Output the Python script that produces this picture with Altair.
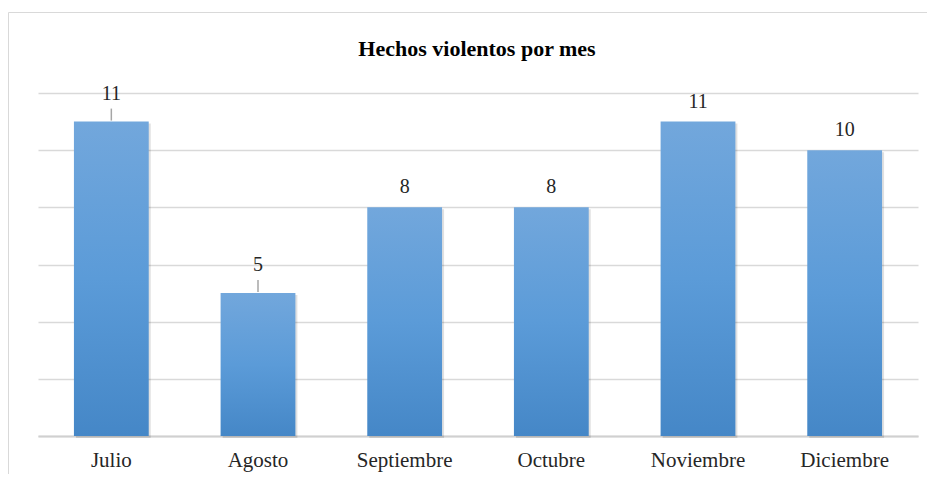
import altair as alt
import pandas as pd

months = ["Julio", "Agosto", "Septiembre", "Octubre", "Noviembre", "Diciembre"]
counts = [11, 5, 8, 8, 11, 10]
leader_months = ["Julio", "Agosto"]
grid_values = [0, 2, 4, 6, 8, 10, 12]
title_text = "Hechos violentos por mes"

df = pd.DataFrame({"mes": months, "hechos": counts})
df["leader"] = df["mes"].isin(leader_months)

FONT = "Liberation Serif"

x = alt.X(
    "mes:N",
    sort=months,
    title=None,
    scale=alt.Scale(paddingInner=0.49, paddingOuter=0.245),
    axis=alt.Axis(
        labelAngle=0,
        labelFont=FONT,
        labelFontSize=21,
        labelColor="#262626",
        ticks=False,
        domainColor="#D0D0D0",
        domainWidth=2,
        labelPadding=13,
    ),
)
y = alt.Y(
    "hechos:Q",
    title=None,
    scale=alt.Scale(domain=[0, 12], nice=False),
    axis=alt.Axis(
        values=grid_values,
        labels=False,
        ticks=False,
        domain=False,
        grid=True,
        gridColor="#D9D9D9",
        gridWidth=1.5,
    ),
)

gradient = alt.Gradient(
    gradient="linear",
    stops=[
        alt.GradientStop(color="#72A7DC", offset=0),
        alt.GradientStop(color="#5B9BD8", offset=0.5),
        alt.GradientStop(color="#4587C7", offset=1),
    ],
    x1=0, x2=0, y1=0, y2=1,
)

base = alt.Chart(df)
single = alt.Data(values=[{"t": title_text}])

frame = alt.Chart(single).mark_rect(
    fill="white", fillOpacity=0, stroke="#D9D9D9", strokeWidth=1
).encode(
    x=alt.value(-29.5), x2=alt.value(1000), y=alt.value(-80.5), y2=alt.value(600)
)

title = alt.Chart(single).mark_text(
    font=FONT, fontSize=22, fontWeight="bold", color="#000000",
    align="center", baseline="middle"
).encode(x=alt.value(439), y=alt.value(-44), text="t:N")

shadow = base.mark_bar(
    color="#000000", opacity=0.12, xOffset=2, yOffset=2, y2Offset=2
).encode(x=x, y=y)

bars = base.mark_bar(fill=gradient).encode(x=x, y=y)

leaders = base.transform_filter(alt.datum.leader).mark_rule(
    color="#A6A6A6", strokeWidth=1.5, yOffset=-1, y2Offset=-13
).encode(x=x, y=y, y2=alt.Y2("hechos:Q"))

labels_leader = base.transform_filter(alt.datum.leader).mark_text(
    font=FONT, fontSize=20, color="#262626", baseline="middle", dy=-28
).encode(x=x, y=y, text="hechos:Q")

labels_plain = base.transform_filter(~alt.datum.leader).mark_text(
    font=FONT, fontSize=20, color="#262626", baseline="middle", dy=-20
).encode(x=x, y=y, text="hechos:Q")

chart = alt.layer(
    frame, title, shadow, bars, leaders, labels_leader, labels_plain
).properties(
    width=880,
    height=343,
    autosize=alt.AutoSizeParams(type="none"),
    padding={"left": 30, "top": 85, "right": 9, "bottom": 38},
    background="white",
).configure_view(stroke=None)

chart.save("out.html", embed_options={"renderer": "svg", "actions": False})
